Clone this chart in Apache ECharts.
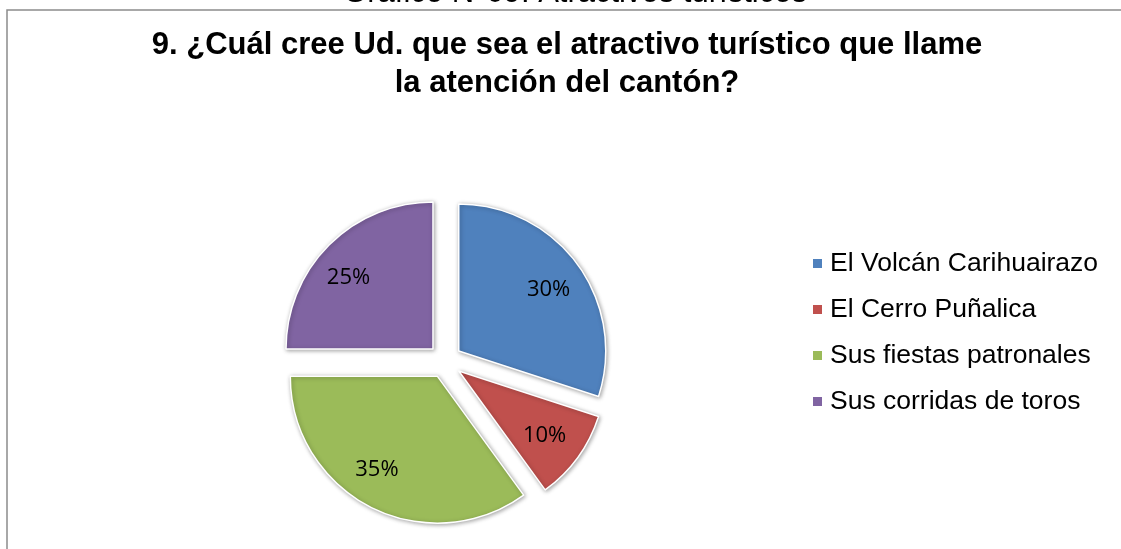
<!DOCTYPE html>
<html>
<head>
<meta charset="utf-8">
<script src="https://cdn.jsdelivr.net/npm/echarts@6/dist/echarts.min.js"></script>
<style>
  html, body { margin: 0; padding: 0; background: #fff; }
  #chart { width: 1121px; height: 549px; }
</style>
</head>
<body>
<div id="chart"></div>
<script>
// datos del gráfico
const categories = ['El Volcán Carihuairazo', 'El Cerro Puñalica', 'Sus fiestas patronales', 'Sus corridas de toros'];
const values = [30, 10, 35, 25];
const colors = ['#4F81BD', '#C0504D', '#9BBB59', '#8064A2'];
const titleText = '9. ¿Cuál cree Ud. que sea el atractivo turístico que llame\nla atención del cantón?';
const captionText = 'Gráfico N°09: Atractivos turísticos';

// pequeños ajustes de posición de las etiquetas (como las pone Excel)
const labelNudge = [[0, 4], [-4, -1], [-10, -5], [-6, 7]];

const center = [445, 361];
const offset = 17;

const pieData = categories.map((name, i) => ({
  name: name,
  value: values[i],
  selected: true,
  itemStyle: { color: colors[i] }
}));

// serie transparente solo para colocar las etiquetas más afuera
const labelData = categories.map((name, i) => ({
  name: name,
  value: values[i],
  selected: true
}));

const chart = echarts.init(document.getElementById('chart'));
chart.setOption({
  animation: false,
  backgroundColor: '#fff',
  title: {
    text: titleText,
    left: 562,
    textAlign: 'center',
    top: 21,
    textStyle: {
      fontFamily: 'Liberation Sans, Arial, sans-serif',
      fontWeight: 'bold',
      fontSize: 31,
      lineHeight: 38,
      color: '#000'
    }
  },
  legend: {
    orient: 'vertical',
    left: 806,
    top: 245,
    itemWidth: 11,
    itemHeight: 11,
    itemGap: 19,
    icon: 'rect',
    selectedMode: false,
    data: categories,
    textStyle: {
      fontFamily: 'Liberation Sans, Arial, sans-serif',
      fontSize: 26.5,
      color: '#000',
      padding: [0, 0, 0, 2]
    }
  },
  graphic: [
    {
      type: 'rect',
      silent: true,
      shape: { x: 7, y: 10, width: 1300, height: 800 },
      style: { fill: 'none', stroke: '#8c8c8c', lineWidth: 1.5 }
    },
    {
      type: 'text',
      silent: true,
      x: 575,
      y: 8.5,
      style: {
        text: captionText,
        align: 'center',
        verticalAlign: 'bottom',
        font: '31px "Liberation Sans", Arial, sans-serif',
        fill: '#000'
      }
    }
  ],
  series: [
    {
      type: 'pie',
      center: center,
      radius: [0, 147],
      startAngle: 90,
      selectedMode: 'multiple',
      selectedOffset: offset,
      label: { show: false },
      labelLine: { show: false },
      emphasis: { disabled: true },
      itemStyle: {
        borderColor: '#fff',
        borderWidth: 1.5,
        shadowBlur: 4,
        shadowOffsetX: 1,
        shadowOffsetY: 1,
        shadowColor: 'rgba(0,0,0,0.35)'
      },
      data: pieData
    },
    {
      type: 'pie',
      center: center,
      radius: [70, 146],
      startAngle: 90,
      silent: true,
      selectedMode: 'multiple',
      selectedOffset: offset,
      itemStyle: { color: 'rgba(0,0,0,0)' },
      emphasis: { disabled: true },
      labelLine: { show: false },
      label: {
        show: true,
        position: 'inside',
        formatter: '{d}%',
        fontFamily: 'Open Sans, sans-serif',
        fontSize: 22,
        color: '#000'
      },
      labelLayout: function (params) {
        const n = labelNudge[params.dataIndex] || [0, 0];
        return { dx: n[0], dy: n[1] };
      },
      data: labelData
    }
  ]
});
</script>
</body>
</html>
